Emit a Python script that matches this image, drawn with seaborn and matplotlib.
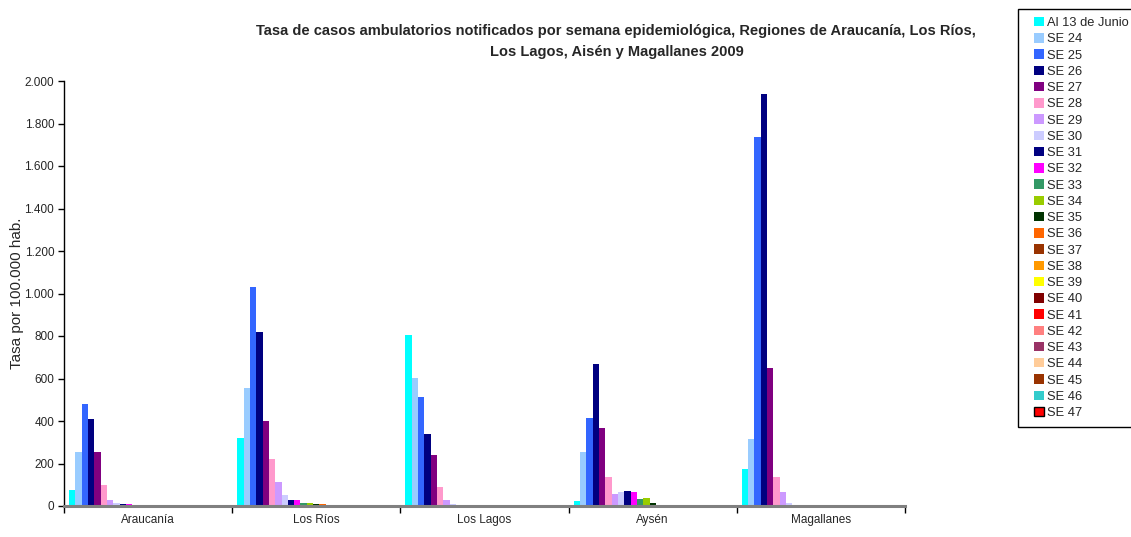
import matplotlib
matplotlib.use("Agg")
import matplotlib.pyplot as plt
from matplotlib.patches import Rectangle
from matplotlib.ticker import FuncFormatter, FixedLocator
import seaborn as sns
import pandas as pd

regions = ["Araucanía", "Los Ríos", "Los Lagos", "Aysén", "Magallanes"]
series = ["Al 13 de Junio"] + [f"SE {n}" for n in range(24, 48)]

# Rates per 100,000 inhabitants, one list per series (order of regions above)
al_13_junio = [77, 321, 806, 25, 176]
se_24 = [256, 557, 604, 256, 317]
se_25 = [481, 1032, 514, 416, 1738]
se_26 = [411, 820, 340, 670, 1940]
se_27 = [256, 401, 241, 369, 651]
se_28 = [100, 223, 91, 138, 138]
se_29 = [30, 114, 30, 58, 67]
se_30 = [16, 53, 11, 67, 16]
se_31 = [11, 30, 6, 72, 6]
se_32 = [11, 30, 6, 67, 6]
se_33 = [6, 15, 6, 34, 6]
se_34 = [6, 15, 6, 39, 0]
se_35 = [6, 11, 6, 16, 0]
se_36 = [0, 11, 0, 6, 0]
se_37 = [0, 6, 0, 0, 0]
se_38 = [0, 6, 0, 0, 0]
se_39 = [0, 6, 0, 0, 0]
se_40 = [0, 0, 0, 0, 0]
se_41 = [0, 0, 0, 0, 0]
se_42 = [0, 0, 0, 0, 0]
se_43 = [0, 0, 0, 0, 0]
se_44 = [0, 0, 0, 0, 0]
se_45 = [0, 0, 0, 0, 0]
se_46 = [0, 0, 0, 0, 0]
se_47 = [0, 0, 0, 0, 0]

values = [al_13_junio, se_24, se_25, se_26, se_27, se_28, se_29, se_30, se_31,
          se_32, se_33, se_34, se_35, se_36, se_37, se_38, se_39, se_40, se_41,
          se_42, se_43, se_44, se_45, se_46, se_47]

colors = ["#00FFFF", "#99CCFF", "#3366FF", "#000080", "#800080", "#FF99CC",
          "#CC99FF", "#CCCCFF", "#000080", "#FF00FF", "#339966", "#99CC00",
          "#003300", "#FF6600", "#993300", "#FF9900", "#FFFF00", "#800000",
          "#FF0000", "#FF8080", "#993366", "#FFCC99", "#993300", "#33CCCC",
          "#FF0000"]

rows = []
for name, vals in zip(series, values):
    for reg, v in zip(regions, vals):
        rows.append({"Región": reg, "Serie": name, "Tasa": v})
df = pd.DataFrame(rows)

sns.set_style("white")
plt.rcParams["font.family"] = ["Liberation Sans", "DejaVu Sans"]

W, H = 1131, 537
fig = plt.figure(figsize=(W / 100, H / 100), dpi=100)
ax = fig.add_axes([64 / W, 1 - 506 / H, 841 / W, 425 / H])

sns.barplot(data=df, x="Región", y="Tasa", hue="Serie", order=regions,
            hue_order=series, palette=colors, width=0.94, gap=0,
            linewidth=0, saturation=1, errorbar=None, ax=ax, legend=True)

ax.set_xlim(-0.5, 4.5)
ax.set_ylim(0, 2000)
ax.yaxis.set_major_locator(FixedLocator(range(0, 2001, 200)))
ax.yaxis.set_major_formatter(FuncFormatter(lambda v, p: f"{int(v):,}".replace(",", ".")))
ax.tick_params(axis="y", left=True, length=4, width=1, color="black",
               labelsize=8.5, pad=3)
ax.tick_params(axis="x", which="major", length=0, labelsize=8.5, pad=6)
ax.set_xticks([i - 0.5 for i in range(6)], minor=True)
ax.tick_params(axis="x", which="minor", bottom=True, length=5, width=1,
               color="black", direction="out")
ax.set_xlabel("")
ax.set_ylabel("Tasa por 100.000 hab.", fontsize=11)
ax.yaxis.set_label_coords(-40 / 841, 0.5)

for side in ("top", "right"):
    ax.spines[side].set_visible(False)
ax.spines["left"].set_color("black")
ax.spines["left"].set_linewidth(1)
ax.spines["bottom"].set_color("#808080")
ax.spines["bottom"].set_linewidth(2.2)

fig.text(0.545, 0.955,
         "Tasa de casos ambulatorios notificados por semana epidemiológica, Regiones de Araucanía, Los Ríos,\nLos Lagos, Aisén y Magallanes 2009",
         ha="center", va="top", fontsize=10.5, fontweight="bold", linespacing=1.6)

# Legend box frame, open on the right like a clipped text box
fig.add_artist(Rectangle((1018 / W, 1 - 427 / H), (W + 5 - 1018) / W, 418 / H,
                         transform=fig.transFigure, facecolor="white",
                         edgecolor="black", linewidth=1, zorder=1))

handles, labels = ax.get_legend_handles_labels()
ax.get_legend().remove()
handles[-1].set_edgecolor("black")
handles[-1].set_linewidth(1)
leg = fig.legend(handles, labels, loc="upper left",
                 bbox_to_anchor=(1034 / W, 1 - 17 / H),
                 fontsize=9.3, frameon=False,
                 handlelength=0.75, handleheight=0.75,
                 handletextpad=0.25, labelspacing=0.31, borderpad=0,
                 borderaxespad=0)
leg.set_zorder(2)

fig.savefig("out.png", dpi=100)
